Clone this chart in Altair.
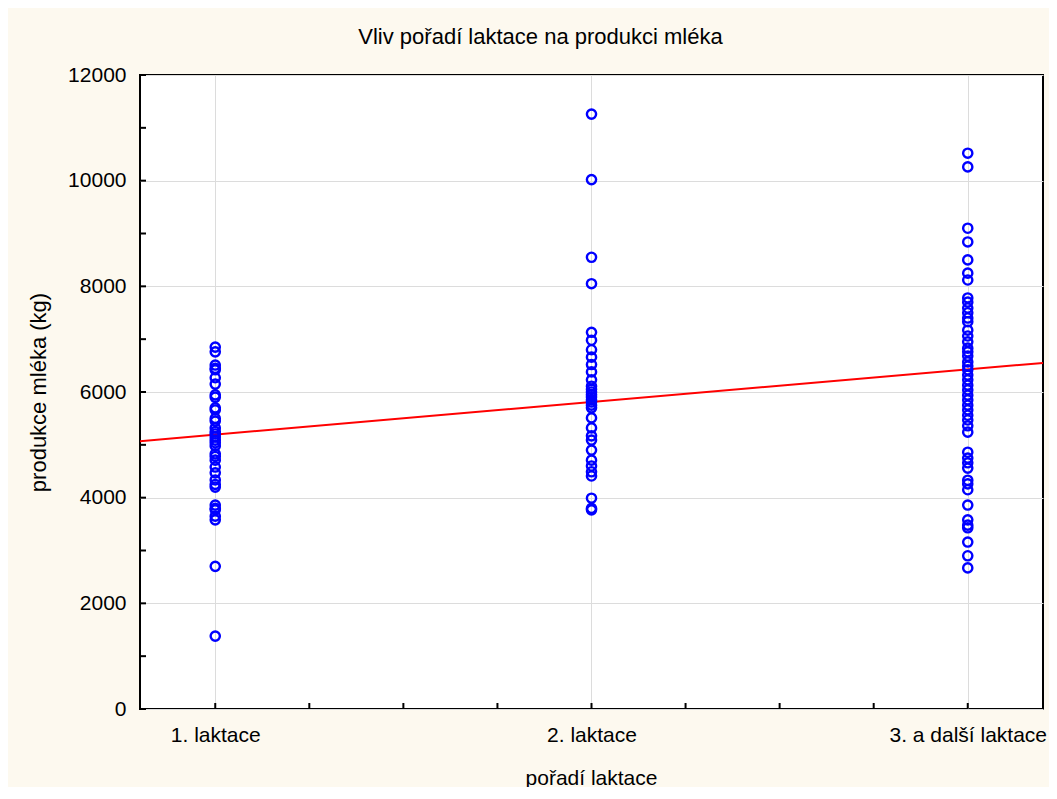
import altair as alt
import pandas as pd

title_text = "Vliv  pořadí laktace na produkci mléka"
x_title = "pořadí laktace"
y_title = "produkce mléka (kg)"
categories = ["1. laktace", "2. laktace", "3. a další laktace"]

g1 = [6850, 6760, 6510, 6450, 6420, 6270, 6150, 5945, 5900, 5700, 5660, 5500, 5450,
      5320, 5250, 5205, 5150, 5090, 5040, 4980, 4830, 4780, 4710, 4580, 4470, 4335,
      4250, 4200, 3860, 3800, 3770, 3650, 3580, 2700, 1380]
g2 = [11260, 10020, 8550, 8050, 7130, 6980, 6800, 6660, 6520, 6380, 6230, 6110, 6050,
      6000, 5950, 5905, 5850, 5810, 5750, 5700, 5510, 5320, 5170, 5090, 4900, 4710,
      4600, 4490, 4410, 3990, 3800, 3770]
g3 = [10520, 10260, 9100, 8840, 8500, 8250, 8120, 7780, 7700, 7590, 7500, 7400, 7330,
      7170, 7060, 6950, 6830, 6760, 6680, 6570, 6490, 6420, 6320, 6230, 6130, 6040,
      5940, 5850, 5750, 5660, 5560, 5470, 5360, 5240, 4860, 4750, 4660, 4560, 4330,
      4260, 4150, 3860, 3580, 3480, 3430, 3160, 2900, 2670]

line_x = [0.8, 3.2]
line_y = [5070, 6550]

y_major = [0, 2000, 4000, 6000, 8000, 10000, 12000]
y_minor = [1000, 3000, 5000, 7000, 9000, 11000]
x_major = [1, 2, 3]
x_minor = [1.25, 1.5, 1.75, 2.25, 2.5, 2.75]

rows = []
for xi, grp in zip([1, 2, 3], [g1, g2, g3]):
    for v in grp:
        rows.append({"x": xi, "y": v})
pts = pd.DataFrame(rows)
line_df = pd.DataFrame({"x": line_x, "y": line_y})
yt_df = pd.DataFrame({"y": y_major + y_minor})
xt_df = pd.DataFrame({"x": x_major + x_minor})

W, H = 903, 634
FONT = "Liberation Sans"

label_expr = " : ".join(
    [f"datum.value == {i+1} ? '{c}'" for i, c in enumerate(categories)]
) + " : ''"

xscale = alt.Scale(domain=[0.8, 3.2], nice=False, zero=False)
yscale = alt.Scale(domain=[0, 12000], nice=False)

xaxis = alt.Axis(values=x_major, labelExpr=label_expr, grid=True, gridColor="#dcdcdc",
                 ticks=False, domain=False, labelPadding=15, labelFontSize=21,
                 labelFont=FONT, labelColor="#000", title=x_title, titleFont=FONT,
                 titleFontSize=21, titleFontWeight="normal", titleColor="#000",
                 titleX=451, titleY=69, titleBaseline="middle", titleAlign="center",
                 labelFlush=False)
yaxis = alt.Axis(values=y_major, grid=True, gridColor="#dcdcdc", ticks=False,
                 domain=False, labelPadding=14, labelFontSize=21, labelFont=FONT,
                 labelColor="#000", title=y_title, titleFont=FONT, titleFontSize=22,
                 titleFontWeight="normal", titleColor="#000", titleAngle=-90,
                 titleX=-102, titleY=317, titleBaseline="middle", titleAlign="center",
                 format="d")

points = alt.Chart(pts).mark_point(shape="circle", filled=False, color="#0000ff",
                                   strokeWidth=2.4, size=85, opacity=1).encode(
    x=alt.X("x:Q", scale=xscale, axis=xaxis),
    y=alt.Y("y:Q", scale=yscale, axis=yaxis),
)

reg = alt.Chart(line_df).mark_line(color="#ff0000", strokeWidth=2, clip=True).encode(
    x=alt.X("x:Q", scale=xscale),
    y=alt.Y("y:Q", scale=yscale),
)

ytick = alt.Chart(yt_df).mark_rule(color="#000", strokeWidth=2).encode(
    y=alt.Y("y:Q", scale=yscale),
    x=alt.value(0),
    x2=alt.value(6),
)
xtick = alt.Chart(xt_df).mark_rule(color="#000", strokeWidth=2).encode(
    x=alt.X("x:Q", scale=xscale),
    y=alt.value(H),
    y2=alt.value(H - 6),
)

chart = alt.layer(reg, points, ytick, xtick).properties(
    width=W, height=H,
    background="#fdf9ef",
    padding={"left": 132, "top": 67, "right": 6, "bottom": 78},
    autosize=alt.AutoSizeParams(type="none"),
    title=alt.TitleParams(title_text, font=FONT, fontSize=22, fontWeight="normal",
                          color="#000", anchor="middle", dx=-51, offset=15),
).configure_view(
    stroke="#000", strokeWidth=2, fill="#ffffff"
)

chart.save("out.html", embed_options={"renderer": "svg", "actions": False})
